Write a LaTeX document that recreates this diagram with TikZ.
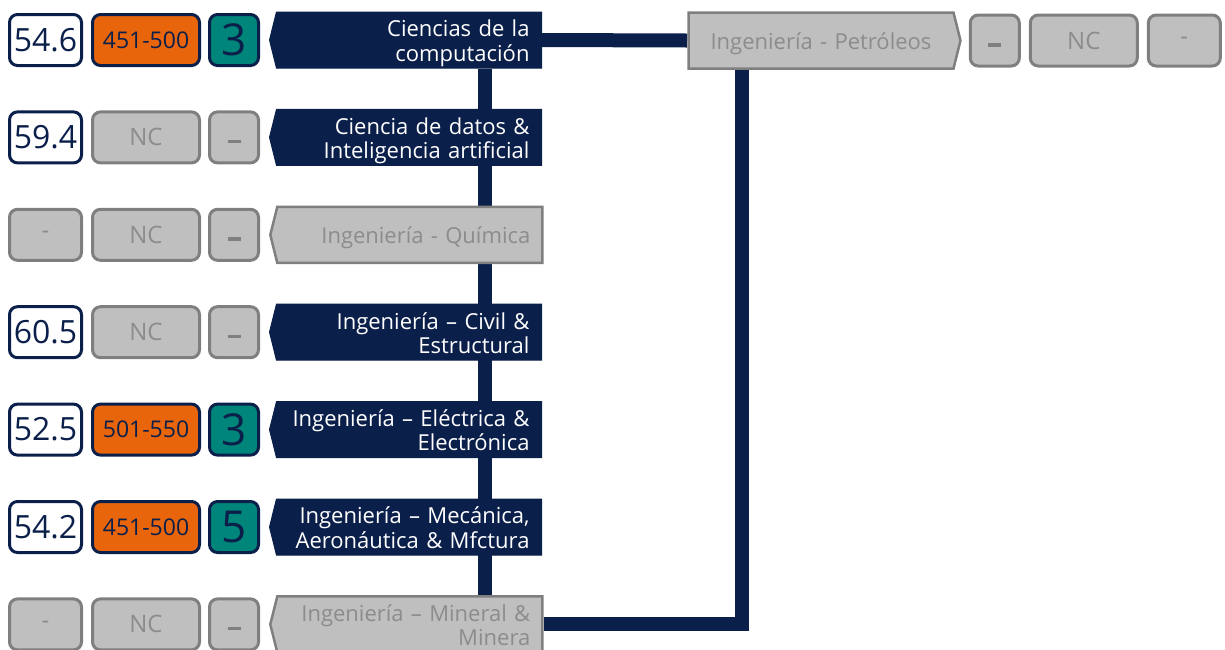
\documentclass[tikz,border=0pt]{standalone}
\usepackage{fontspec}
\setmainfont{Open Sans}
\usetikzlibrary{shapes,arrows,positioning,backgrounds}

\definecolor{navy}{HTML}{0B1F4B}
\definecolor{orng}{HTML}{E8650C}
\definecolor{sgteal}{HTML}{00857A}
\definecolor{greyfill}{HTML}{BFBFBF}
\definecolor{greyline}{HTML}{7F7F7F}
\definecolor{greytext}{HTML}{8C8C8C}

\newcommand\gapmark{\rule{0pt}{12pt}\textcolor{greyline}{\rule{13pt}{3.6pt}}}

\tikzset{
  tile/.style={draw=navy, line width=3pt, rounded corners=8pt, minimum height=51pt, inner sep=0pt, text=navy},
  colA/.style={minimum width=72pt},
  colB/.style={minimum width=107pt},
  colC/.style={minimum width=49pt},
  score/.style={tile, fill=white, font=\fontsize{32}{32}\selectfont},
  rank/.style={tile, fill=orng, font=\fontsize{23}{24}\selectfont},
  stars/.style={tile, fill=sgteal, font=\fontsize{44}{44}\selectfont},
  nada/.style={tile, draw=greyline, fill=greyfill, text=greytext, font=\fontsize{24}{24}\selectfont},
  field/.style={signal, signal to=west, signal pointer angle=152, minimum width=272pt, minimum height=56pt, inner sep=0pt, text width=241pt, align=right, font=\fontsize{22}{24.4}\selectfont,
    execute at begin node={\rule{0pt}{24pt}}, execute at end node={\rule[-6pt]{0pt}{6pt}}},
  active/.style={field, fill=navy, draw=navy, line width=1pt, text=white},
  idle/.style={field, fill=greyfill, draw=greyline, line width=2.5pt, text=greytext},
  link/.style={draw=navy, line width=14pt},
}

\begin{document}
\begin{tikzpicture}[x=1pt, y=-1pt]
  \useasboundingbox (0,0) rectangle (1225,649);

  % Draw rows
  \foreach \r/\a/\sa/\b/\sb/\c/\sc/\t/\st in {
    1/54.6/score/451-500/rank/3/stars/{Ciencias de la\\computación}/active,
    2/59.4/score/NC/nada/\gapmark/nada/{Ciencia de datos \&\\Inteligencia artificial}/active,
    3/-/nada/NC/nada/\gapmark/nada/{Ingeniería - Química}/idle,
    4/60.5/score/NC/nada/\gapmark/nada/{Ingeniería – Civil \&\\Estructural}/active,
    5/52.5/score/501-550/rank/3/stars/{Ingeniería – Eléctrica \&\\Electrónica}/active,
    6/54.2/score/451-500/rank/5/stars/{Ingeniería – Mecánica,\\Aeronáutica \& Mfctura}/active,
    7/-/nada/NC/nada/\gapmark/nada/{Ingeniería – Mineral \&\\Minera}/idle} {
    \node[\sa, colA] (s\r) at (45.5, {40+97.4*(\r-1)}) {\a};
    \node[\sb, colB, right=8pt of s\r] (k\r) {\b};
    \node[\sc, colC, right=7pt of k\r] (e\r) {\c};
    \node[\st, right=9pt of e\r] (f\r) {\t};
  }

  % Draw petroleum row
  \node[idle, signal to=east, align=center] (pet) at (821,40.5) {Ingeniería - Petróleos};
  \node[nada, colC, right=7pt of pet] (pe) {\gapmark};
  \node[nada, colB, right=8pt of pe] (pk) {NC};
  \node[nada, colA, right=8pt of pk] (ps) {-};

  % Draw links
  \begin{scope}[on background layer]
    \coordinate (spine) at (485,0);
    \coordinate (riser) at (742,0);
    \draw[link] (f1.south -| spine) -- (f7.north -| spine);
    \draw[link] (f1.east) -- (pet.west);
    \draw[link] (pet.south -| riser) |- (f7.east);
  \end{scope}
\end{tikzpicture}
\end{document}
